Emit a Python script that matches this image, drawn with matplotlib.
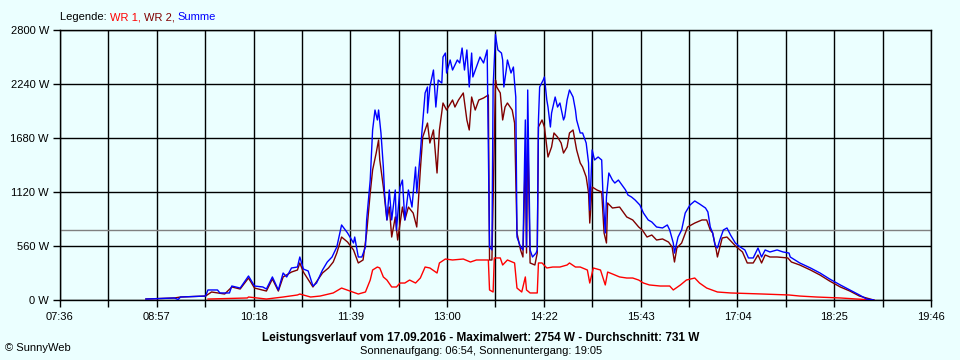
import numpy as np
import matplotlib
matplotlib.use('Agg')
import matplotlib.pyplot as plt

plt.rcParams['font.family'] = ['Liberation Sans', 'DejaVu Sans']

# Zeit in Minuten seit Mitternacht, Leistung in W
summe_t = [528, 552, 555, 557, 578, 580, 588, 590, 598, 600, 607, 614, 619, 626, 629, 634, 639, 643,
           646, 650, 655, 657, 660, 664, 668, 671, 676, 680, 684, 688, 692, 697, 699, 702, 703, 706,
           709, 712, 713, 716, 718, 720, 722, 723, 725, 727, 728, 730, 732, 734, 737, 738, 741, 743,
           745, 748, 751, 754, 755, 758, 759, 762, 764, 764, 766, 769, 771, 773, 776, 777, 779, 780,
           783, 785, 789, 791, 793, 795, 797, 799, 801, 802, 805, 808, 811, 814, 816, 818, 819, 821,
           822, 823, 826, 827, 828, 830, 831, 834, 836, 837, 838, 839, 842, 844, 846, 847, 848, 850,
           852, 855, 856, 857, 858, 861, 862, 864, 865, 867, 868, 871, 873, 875, 878, 879, 881, 883,
           886, 888, 889, 892, 894, 897, 899, 900, 902, 904, 907, 910, 911, 913, 914, 916, 919, 921,
           924, 927, 930, 932, 935, 938, 942, 945, 949, 952, 956, 961, 965, 967, 970, 971, 974, 977,
           980, 984, 988, 992, 997, 999, 1001, 1003, 1005, 1007, 1009, 1012, 1015, 1018, 1022, 1026,
           1030, 1033, 1037, 1041, 1044, 1047, 1051, 1057, 1062, 1067, 1068, 1076, 1085, 1093, 1101,
           1110, 1118, 1126, 1132, 1138]
summe_w = [10, 21, 5, 31, 41, 104, 104, 73, 73, 145, 124, 249, 145, 135, 114, 239, 104, 280,
           239, 332, 342, 446, 321, 301, 145, 176, 311, 394, 446, 550, 778, 695, 653, 591, 653, 446,
           446, 550, 830, 1244, 1763, 1970, 1867, 1970, 1732, 1379, 1110, 830, 1141, 830, 1141, 726, 1172, 1244,
           830, 1141, 964, 1379, 1110, 1524, 1690, 2147, 2209, 1939, 2209, 2385, 2001, 2281, 2250, 2520, 2561, 2354,
           2489, 2385, 2489, 2458, 2613, 2385, 2593, 2209, 2561, 2313, 2416, 2520, 2458, 2593, 550, 519, 2209, 2754,
           2665, 2593, 2561, 2489, 2209, 2385, 2489, 2354, 2416, 2250, 2105, 653, 550, 519, 1867, 550, 2178, 519,
           446, 487, 519, 1867, 2209, 2281, 2313, 2074, 2001, 1794, 1939, 2105, 2001, 2043, 1867, 1898, 2074, 2178,
           2105, 1970, 1867, 1732, 1732, 1628, 1421, 933, 1556, 1452, 1483, 1452, 1110, 695, 1068, 1317, 1244, 1213,
           1244, 1193, 1141, 1089, 1068, 1037, 985, 902, 830, 809, 757, 747, 778, 726, 591, 487, 653, 726,
           902, 985, 1027, 996, 954, 913, 757, 695, 570, 539, 622, 726, 747, 674, 591, 550,
           519, 436, 436, 539, 446, 519, 498, 519, 498, 487, 446, 384, 332, 280, 218,
           156, 104, 52, 10, 0]

wr1_t = [580, 613, 614, 629, 643, 655, 657, 666, 674, 685, 692, 699, 706, 712, 716, 718, 722, 724,
         727, 730, 734, 738, 741, 745, 749, 754, 758, 762, 766, 772, 774, 779, 785, 794, 800, 805,
         815, 816, 819, 820, 825, 827, 831, 837, 839, 843, 846, 847, 850, 856, 857, 860, 864, 869,
         875, 881, 883, 888, 892, 898, 900, 903, 909, 913, 915, 919, 925, 931, 936, 941, 945, 950,
         959, 967, 970, 976, 981, 988, 992, 998, 1007, 1018, 1045, 1067, 1076, 1090, 1110, 1124, 1138]
wr1_w = [10, 21, 31, 10, 31, 52, 62, 31, 41, 73, 124, 93, 62, 83, 207, 311, 342, 332,
         239, 207, 135, 135, 176, 176, 207, 176, 228, 342, 332, 280, 384, 425, 415, 425, 394, 415,
         415, 104, 83, 436, 436, 363, 415, 384, 124, 83, 239, 104, 73, 73, 384, 384, 332, 342,
         342, 363, 384, 342, 342, 311, 176, 332, 311, 156, 290, 270, 239, 228, 228, 207, 176, 156,
         145, 145, 104, 156, 207, 228, 176, 124, 83, 73, 62, 52, 41, 31, 21, 10, 0]

wr2_t = [528, 552, 557, 578, 583, 594, 600, 607, 614, 619, 629, 634, 639, 643, 650, 655, 657, 660,
         668, 676, 681, 685, 688, 692, 697, 702, 706, 710, 713, 716, 718, 721, 723, 724, 727, 730,
         732, 734, 737, 739, 743, 745, 748, 752, 755, 758, 760, 764, 766, 769, 772, 774, 777, 780,
         785, 787, 790, 794, 797, 799, 801, 804, 807, 811, 815, 816, 818, 821, 822, 825, 827, 829,
         831, 835, 837, 839, 842, 844, 846, 847, 848, 850, 854, 856, 857, 860, 862, 865, 868, 870,
         873, 876, 878, 881, 883, 886, 889, 892, 894, 897, 899, 900, 902, 906, 910, 912, 914, 915,
         919, 925, 931, 936, 941, 944, 948, 952, 956, 961, 966, 969, 971, 973, 977, 982, 988, 994,
         998, 1001, 1003, 1006, 1007, 1011, 1015, 1019, 1023, 1028, 1032, 1037, 1041, 1044, 1047, 1051,
         1057, 1066, 1069, 1076, 1085, 1093, 1101, 1110, 1118, 1126, 1135, 1138]
wr2_w = [10, 21, 31, 41, 83, 62, 135, 114, 228, 124, 93, 218, 93, 239, 290, 311, 384, 290,
         135, 280, 332, 394, 487, 653, 601, 519, 384, 415, 695, 1110, 1348, 1524, 1659, 1452, 1172, 830,
         964, 653, 861, 622, 964, 830, 964, 902, 757, 1348, 1690, 1835, 1628, 1763, 1317, 1763, 2043, 1970,
         2074, 2001, 2074, 2147, 1867, 1763, 2105, 1970, 2074, 2095, 2126, 415, 415, 2281, 2209, 2147, 1867, 2001,
         2043, 1970, 1835, 695, 519, 446, 1524, 487, 1794, 384, 363, 487, 1794, 1867, 1794, 1483, 1587, 1732,
         1690, 1628, 1524, 1587, 1732, 1763, 1556, 1421, 1379, 1276, 1110, 798, 1172, 1141, 1120, 695, 591, 1006,
         954, 964, 861, 830, 757, 726, 653, 674, 622, 633, 601, 550, 394, 539, 591, 757, 798, 830,
         830, 726, 695, 519, 446, 643, 653, 601, 550, 498, 384, 384, 467, 384, 467, 446,
         446, 436, 394, 363, 311, 259, 197, 135, 93, 41, 10, 0]

durchschnitt = 731
maximalwert = 2754
y_ticks = [0, 560, 1120, 1680, 2240, 2800]

bg = '#ebffff'
t0, t1 = 7 * 60 + 36, 19 * 60 + 46

fig = plt.figure(figsize=(9.6, 3.6), dpi=100, facecolor=bg)
ax = fig.add_axes([60 / 960, 60 / 360, 871 / 960, 270 / 360], facecolor=bg)

x_grid = np.linspace(t0, t1, 19)
for xg in x_grid:
    ax.axvline(xg, color='black', lw=1.0, zorder=1)
for yg in y_ticks:
    ax.axhline(yg, color='black', lw=1.0, zorder=1)
ax.axhline(durchschnitt, color='#808080', lw=1.0, zorder=1.5)

ax.plot(wr1_t, wr1_w, color='#ff0000', lw=1.0, zorder=3)
ax.plot(wr2_t, wr2_w, color='#800000', lw=1.0, zorder=4)
ax.plot(summe_t, summe_w, color='#0000ff', lw=1.0, zorder=5)

ax.set_xlim(t0, t1)
ax.set_ylim(0, 2800)
for s in ax.spines.values():
    s.set_color('black')
    s.set_linewidth(1.0)

def hhmm(m):
    m = int(round(m))
    return '%02d:%02d' % (m // 60, m % 60)

ax.set_xticks(x_grid)
ax.set_xticklabels([hhmm(v) if i % 2 == 0 else '' for i, v in enumerate(x_grid)])
ax.set_yticks(y_ticks)
ax.set_yticklabels(['%d W' % v for v in y_ticks])
ax.tick_params(axis='both', length=5, width=1.0, color='black', labelsize=8, pad=3)
ax.tick_params(axis='x', pad=4)

fig.canvas.draw()
renderer = fig.canvas.get_renderer()
x = 60 / 960
for txt, col in [('Legende: ', 'black'), ('WR 1, ', '#ff0000'), ('WR 2, ', '#800000'), ('Summe', '#0000ff')]:
    t = fig.text(x, 1 - 17 / 360, txt, color=col, fontsize=8, va='center', ha='left')
    bb = t.get_window_extent(renderer)
    x += bb.width / fig.bbox.width

fig.text(481 / 960, 1 - 338 / 360,
         'Leistungsverlauf vom 17.09.2016 - Maximalwert: %d W - Durchschnitt: %d W' % (maximalwert, durchschnitt),
         fontsize=8.5, fontweight='bold', ha='center', va='center')
fig.text(481 / 960, 1 - 351 / 360, 'Sonnenaufgang: 06:54, Sonnenuntergang: 19:05',
         fontsize=8, ha='center', va='center')
fig.text(5 / 960, 1 - 348 / 360, '© SunnyWeb', fontsize=8, ha='left', va='center')

fig.savefig('out.png', dpi=100, facecolor=bg)
